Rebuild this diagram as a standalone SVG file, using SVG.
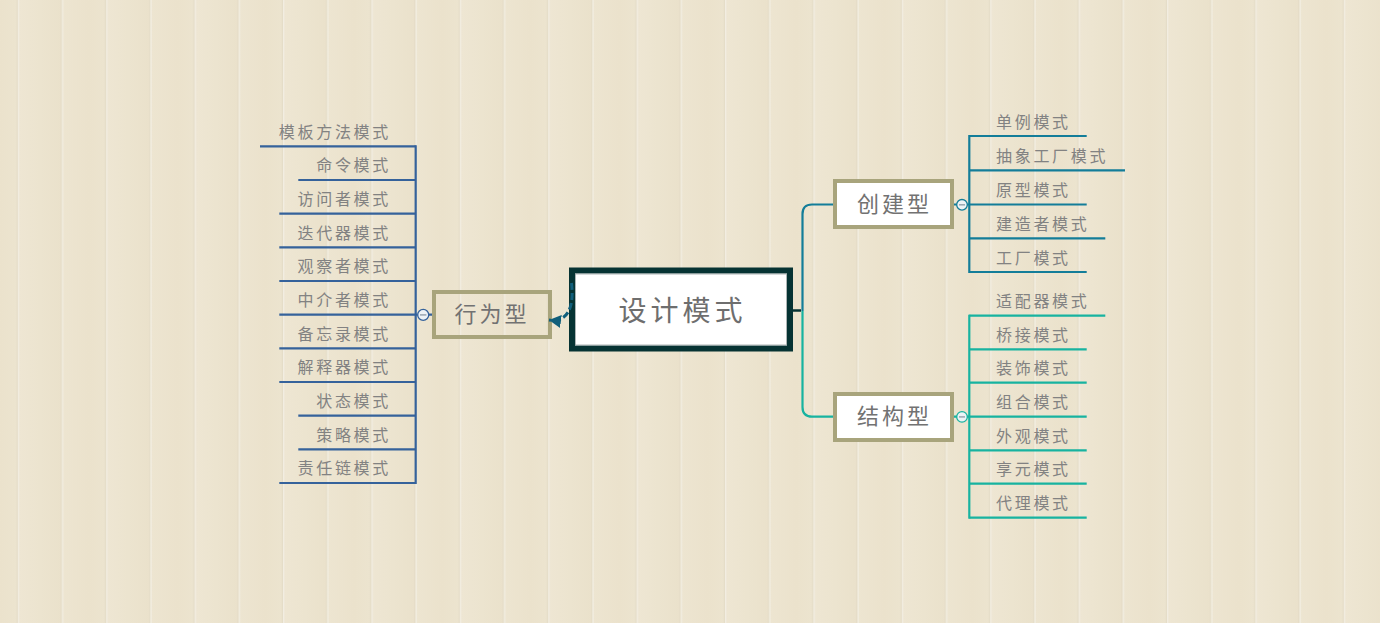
<svg xmlns="http://www.w3.org/2000/svg" width="1380" height="623" viewBox="0 0 1380 623">
<defs>
<linearGradient id="plankA" x1="0" y1="0" x2="1" y2="0">
<stop offset="0" stop-color="#eee6d3"/>
<stop offset="0.5" stop-color="#ece4cf"/>
<stop offset="1" stop-color="#eae1cb"/>
</linearGradient>
<linearGradient id="plankB" x1="0" y1="0" x2="1" y2="0">
<stop offset="0" stop-color="#ede5d1"/>
<stop offset="0.6" stop-color="#ebe2cc"/>
<stop offset="1" stop-color="#ece4cf"/>
</linearGradient>
<pattern id="wood" patternUnits="userSpaceOnUse" x="17.8" y="0" width="88.4" height="623">
<rect x="0" y="0" width="44.2" height="623" fill="url(#plankA)"/>
<rect x="44.2" y="0" width="44.2" height="623" fill="url(#plankB)"/>
<rect x="0" y="0" width="1.4" height="623" fill="#f2ede1"/>
<rect x="44.2" y="0" width="1.4" height="623" fill="#f2ede1"/>
<rect x="43" y="0" width="1" height="623" fill="#e4dcc7"/>
<rect x="87.2" y="0" width="1" height="623" fill="#e4dcc7"/>
</pattern>
<marker id="arrow" markerUnits="userSpaceOnUse" markerWidth="14" markerHeight="14" refX="12" refY="6.5" orient="auto">
<path d="M0,0 L12,6.5 L0,13 Z" fill="#115f7b"/>
</marker>
<style>
.leaf{font-family:"Noto Sans CJK SC","Noto Sans",sans-serif;font-size:16px;letter-spacing:2.7px;fill:#828282}
.left{text-anchor:end}
.topic{font-family:"Noto Sans CJK SC","Noto Sans",sans-serif;font-size:22px;letter-spacing:3px;fill:#727272;text-anchor:middle}
.central{font-family:"Noto Sans CJK SC","Noto Sans",sans-serif;font-size:28px;letter-spacing:4px;fill:#6e6e6e;text-anchor:middle}
.sub{fill:#ffffff;stroke:#a8a47c;stroke-width:4}
.ln{fill:none;stroke-width:2.2}
.blue{stroke:#35629b}
.cyan{stroke:#137d99}
.teal{stroke:#17b3a0}
.toggle{fill:#eef3f6;stroke-width:1.3}
.minus{stroke:#9aa6b0;stroke-width:1.5}
</style>
</defs>
<rect x="0" y="0" width="1380" height="623" fill="url(#wood)"/>

<g id="node-central">
<rect x="572" y="270.5" width="218" height="78" fill="#ffffff" stroke="#063333" stroke-width="6"/>
<rect x="575.5" y="274" width="211" height="71" fill="none" stroke="#9aa3a3" stroke-width="0.8"/>
<text class="central" x="682.5" y="320.5">设计模式</text>
</g>

<g id="node-creational">
<rect class="sub" x="835" y="181" width="117" height="46"/>
<text class="topic" x="894.5" y="212.3">创建型</text>
</g>

<g id="node-structural">
<rect class="sub" x="835" y="394" width="117" height="46"/>
<text class="topic" x="894.5" y="424.4">结构型</text>
</g>

<g id="node-behavioral">
<rect x="434" y="292" width="116" height="45" fill="none" stroke="#a8a47c" stroke-width="4"/>
<text class="topic" x="492" y="322.4">行为型</text>
</g>

<g id="leaves-creational">
<text class="leaf" x="996" y="127.5">单例模式</text>
<text class="leaf" x="996" y="161.5">抽象工厂模式</text>
<text class="leaf" x="996" y="195.5">原型模式</text>
<text class="leaf" x="996" y="229.5">建造者模式</text>
<text class="leaf" x="996" y="263.5">工厂模式</text>
</g>

<g id="leaves-structural">
<text class="leaf" x="996" y="307">适配器模式</text>
<text class="leaf" x="996" y="340.8">桥接模式</text>
<text class="leaf" x="996" y="374.2">装饰模式</text>
<text class="leaf" x="996" y="408.2">组合模式</text>
<text class="leaf" x="996" y="441.8">外观模式</text>
<text class="leaf" x="996" y="475.2">享元模式</text>
<text class="leaf" x="996" y="509.2">代理模式</text>
</g>

<g id="leaves-behavioral">
<text class="leaf left" x="391" y="137.5">模板方法模式</text>
<text class="leaf left" x="391" y="171.2">命令模式</text>
<text class="leaf left" x="391" y="204.9">访问者模式</text>
<text class="leaf left" x="391" y="238.5">迭代器模式</text>
<text class="leaf left" x="391" y="272.2">观察者模式</text>
<text class="leaf left" x="391" y="305.9">中介者模式</text>
<text class="leaf left" x="391" y="339.5">备忘录模式</text>
<text class="leaf left" x="391" y="373.2">解释器模式</text>
<text class="leaf left" x="391" y="406.9">状态模式</text>
<text class="leaf left" x="391" y="440.5">策略模式</text>
<text class="leaf left" x="391" y="474.2">责任链模式</text>
</g>

<g id="connectors">
<!-- central to right branches -->
<path d="M793,310.5 H801" fill="none" stroke="#063333" stroke-width="2.5"/>
<path class="ln cyan" d="M802.5,311 V214 Q802.5,204.5 812,204.5 H833"/>
<path class="ln teal" d="M802.5,311 V407 Q802.5,416.7 812,416.7 H833"/>
<!-- relationship dashed arrow -->
<path d="M571.5,283 C573.5,300 572,323 549,320" fill="none" stroke="#115f7b" stroke-width="3" stroke-dasharray="7,3" marker-end="url(#arrow)"/>

<!-- creation children -->
<path class="ln cyan" d="M954,204.5 H957 M967,204.5 H969.3"/>
<path class="ln cyan" d="M969.3,135 V273"/>
<path class="ln cyan" d="M969.3,136 H1086.7 M969.3,170.3 H1125 M969.3,204.5 H1086.7 M969.3,238.3 H1105.3 M969.3,272 H1086.7"/>

<!-- structure children -->
<path class="ln teal" d="M954,416.7 H957 M967,416.7 H969.3"/>
<path class="ln teal" d="M969.3,314.7 V518.7"/>
<path class="ln teal" d="M969.3,315.7 H1105.3 M969.3,349.3 H1086.7 M969.3,382.7 H1086.7 M969.3,416.7 H1086.7 M969.3,450.3 H1086.7 M969.3,483.7 H1086.7 M969.3,517.7 H1086.7"/>

<!-- behavior children -->
<path class="ln blue" d="M432,314.7 H428.5 M417.5,314.7 H415.7"/>
<path class="ln blue" d="M415.7,145.3 V484"/>
<path class="ln blue" d="M415.7,146.3 H260 M415.7,180 H298.3 M415.7,213.7 H279.3 M415.7,247.3 H279.3 M415.7,281 H279.3 M415.7,314.7 H279.3 M415.7,348.3 H279.3 M415.7,382 H279.3 M415.7,415.7 H298.3 M415.7,449.3 H298.3 M415.7,483 H279.3"/>

<!-- toggles -->
<circle class="toggle" cx="962" cy="204.8" r="5.3" stroke="#137d99"/>
<path class="minus" d="M959,204.8 H965"/>
<circle class="toggle" cx="962" cy="416.9" r="5.3" stroke="#17b3a0"/>
<path class="minus" d="M959,416.9 H965"/>
<circle class="toggle" cx="423.2" cy="314.9" r="5.5" stroke="#35629b"/>
<path class="minus" d="M420,314.9 H426.4"/>
</g>
</svg>
